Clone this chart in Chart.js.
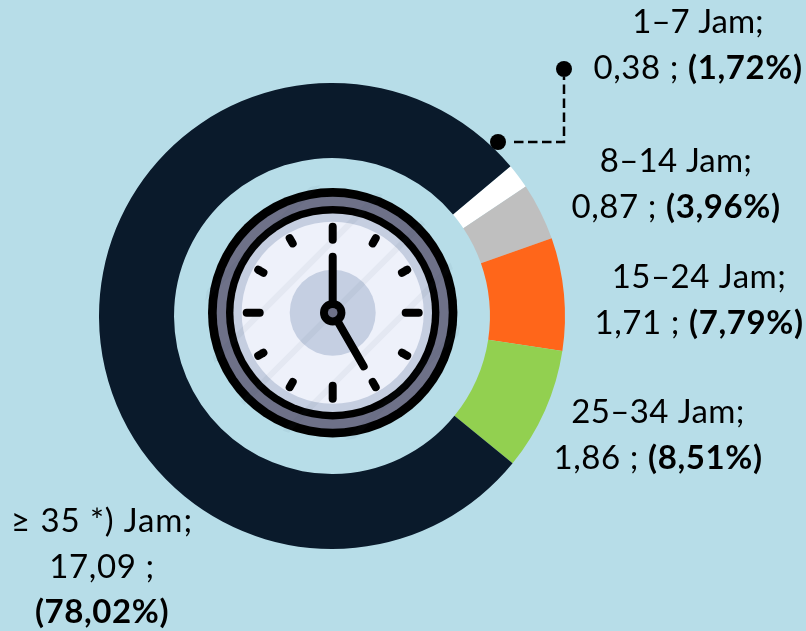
<!DOCTYPE html>
<html>
<head>
<meta charset="utf-8">
<title>Jam</title>
<script src="https://cdn.jsdelivr.net/npm/chart.js@4/dist/chart.umd.min.js"></script>
<style>
  html, body { margin: 0; padding: 0; background: #b7dde8; overflow: hidden; }
  canvas { display: block; }
</style>
</head>
<body>
<canvas id="jamChart" width="806" height="631"></canvas>
<script>
// data
const categories = ['1–7 Jam', '8–14 Jam', '15–24 Jam', '25–34 Jam', '≥ 35 *) Jam'];
const hours = [0.38, 0.87, 1.71, 1.86, 17.09];
const percents = [1.72, 3.96, 7.79, 8.51, 78.02];
const sliceColors = ['#ffffff', '#bfbfbf', '#ff661a', '#92d050', '#0a1a2b'];

const FONT = 'Lato, "Open Sans", sans-serif';
const FONT_SIZE = 33;
const LINE_H = 45.7;

// label anchors (first baseline), offset from the doughnut centre
const labelAnchors = [
    { dx: 366, dy: -283, sp: 0 },
    { dx: 344, dy: -144, sp: 0.2 },
    { dx: 367, dy: -28, sp: 0.5 },
    { dx: 326, dy: 107, sp: 0.4 },
    { dx: -230, dy: 216, sp: 0.9, stacked: true }
];

function comma(v) { return v.toFixed(2).replace('.', ','); }

function drawLabels(ctx, cx, cy) {
    ctx.save();
    ctx.fillStyle = '#000';
    ctx.textBaseline = 'alphabetic';
    categories.forEach((name, i) => {
        const a = labelAnchors[i];
        const x = cx + a.dx, y = cy + a.dy;
        const plain = comma(hours[i]) + ' ; ';
        const bold = '(' + comma(percents[i]) + '%)';
        ctx.textAlign = 'center';
        ctx.letterSpacing = a.sp + 'px';
        ctx.font = FONT_SIZE + 'px ' + FONT;
        ctx.fillText(name + ';', x, y);
        ctx.letterSpacing = '0.6px';
        if (a.stacked) {
            ctx.fillText(plain.trim(), x, y + LINE_H);
            ctx.font = 'bold ' + FONT_SIZE + 'px ' + FONT;
            ctx.fillText(bold, x, y + LINE_H * 2);
        } else {
            const w1 = ctx.measureText(plain).width;
            ctx.font = 'bold ' + FONT_SIZE + 'px ' + FONT;
            const w2 = ctx.measureText(bold).width;
            ctx.textAlign = 'left';
            ctx.font = FONT_SIZE + 'px ' + FONT;
            ctx.fillText(plain, x - (w1 + w2) / 2, y + LINE_H);
            ctx.font = 'bold ' + FONT_SIZE + 'px ' + FONT;
            ctx.fillText(bold, x - (w1 + w2) / 2 + w1, y + LINE_H);
        }
    });
    ctx.restore();
}

// dashed elbow going from the dark ring up to the 1-7 Jam label
function drawLeader(ctx, cx, cy) {
    const x1 = cx + 166, y1 = cy - 174;
    const x2 = cx + 232, y2 = cy - 247;
    ctx.save();
    ctx.strokeStyle = '#000';
    ctx.lineWidth = 2.5;
    ctx.setLineDash([9.5, 4.5]);
    ctx.beginPath();
    ctx.moveTo(x1 + 16, y1);
    ctx.lineTo(x2, y1);
    ctx.lineTo(x2, y2 + 8);
    ctx.stroke();
    ctx.setLineDash([]);
    ctx.fillStyle = '#000';
    [[x1, y1], [x2, y2]].forEach(p => {
        ctx.beginPath();
        ctx.arc(p[0], p[1], 8, 0, Math.PI * 2);
        ctx.fill();
    });
    ctx.restore();
}

function disc(ctx, x, y, r, color) {
    ctx.fillStyle = color;
    ctx.beginPath();
    ctx.arc(x, y, r, 0, Math.PI * 2);
    ctx.fill();
}

function drawClock(ctx, cx, cy) {
    const x = cx + 0.7, y = cy - 3.3;
    ctx.save();
    disc(ctx, x, y, 124.7, '#000');
    disc(ctx, x, y, 116, '#6e7188');
    disc(ctx, x, y, 106.7, '#000');
    disc(ctx, x, y, 99.3, '#c5cee0');
    disc(ctx, x, y, 91, '#eef1fa');
    disc(ctx, x, y, 43, '#c5cfe2');

    // glass streaks
    ctx.save();
    ctx.beginPath();
    ctx.arc(x, y, 128, 0, Math.PI * 2);
    ctx.clip();
    ctx.strokeStyle = 'rgba(60,70,90,0.05)';
    ctx.lineWidth = 6;
    for (let k = -180; k <= 180; k += 36) {
        ctx.beginPath();
        ctx.moveTo(x - 150 + k, y + 150 + k);
        ctx.lineTo(x + 150 + k, y - 150 + k);
        ctx.stroke();
    }
    ctx.restore();

    ctx.strokeStyle = '#000';
    ctx.lineCap = 'round';
    ctx.lineWidth = 8;
    for (let h = 0; h < 12; h++) {
        const a = h * Math.PI / 6;
        const r0 = h % 3 === 0 ? 73 : 80;
        const r1 = 86;
        ctx.beginPath();
        ctx.moveTo(x + Math.sin(a) * r0, y - Math.cos(a) * r0);
        ctx.lineTo(x + Math.sin(a) * r1, y - Math.cos(a) * r1);
        ctx.stroke();
    }
    // hands, five o'clock
    ctx.beginPath();
    ctx.moveTo(x, y);
    ctx.lineTo(x, y - 56);
    ctx.stroke();
    const h = 150 * Math.PI / 180;
    ctx.beginPath();
    ctx.moveTo(x, y);
    ctx.lineTo(x + Math.sin(h) * 62, y - Math.cos(h) * 62);
    ctx.stroke();
    disc(ctx, x, y, 12.7, '#000');
    disc(ctx, x, y, 4.8, '#6e7188');
    ctx.restore();
}

const annotations = {
    id: 'annotations',
    afterDraw(chart) {
        const arc = chart.getDatasetMeta(0).data[0];
        const ctx = chart.ctx;
        drawClock(ctx, arc.x, arc.y);
        drawLeader(ctx, arc.x, arc.y);
        drawLabels(ctx, arc.x, arc.y);
    }
};

const ctx = document.getElementById('jamChart').getContext('2d');
const jamChart = new Chart(ctx, {
    type: 'doughnut',
    data: {
        labels: categories,
        datasets: [{ data: hours, backgroundColor: sliceColors, borderWidth: 0 }]
    },
    options: {
        responsive: false,
        animation: false,
        rotation: 50,
        cutout: '67.8%',
        layout: { padding: { left: 99, right: 241, top: 83, bottom: 82 } },
        plugins: { legend: { display: false }, tooltip: { enabled: false } }
    },
    plugins: [annotations]
});
</script>
</body>
</html>
